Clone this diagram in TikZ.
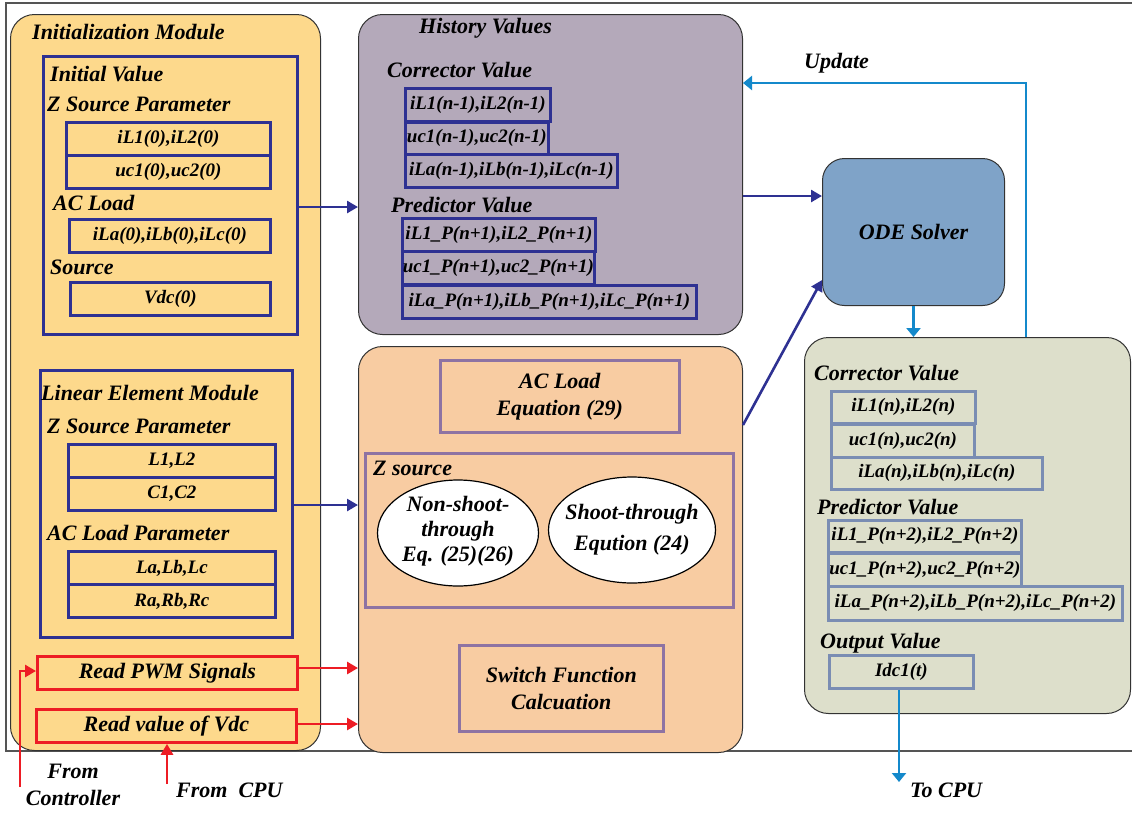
\documentclass[tikz,border=0pt]{standalone}
\usepackage{fontspec}
\setmainfont{Liberation Serif}
\usetikzlibrary{arrows.meta,shapes.geometric}
\definecolor{initfill}{HTML}{FDD98C}
\definecolor{histfill}{HTML}{B4A9BA}
\definecolor{ctrfill}{HTML}{F8CCA2}
\definecolor{odefill}{HTML}{7FA3C8}
\definecolor{outfill}{HTML}{DDDFCB}
\definecolor{navy}{HTML}{2E3192}
\definecolor{sigred}{HTML}{ED1C24}
\definecolor{ltblue}{HTML}{1489CB}
\definecolor{purp}{HTML}{8E73A3}
\definecolor{gblue}{HTML}{7A8DB3}
\definecolor{frame}{HTML}{555555}
\begin{document}
\begin{tikzpicture}[x=1pt,y=-1pt,
  bigbox/.style={draw=black!80, line width=1pt, rounded corners=24pt},
  cellfont/.style={font=\fontsize{19}{21}\selectfont\bfseries\itshape},
  cellN/.style={cellfont, draw=navy, line width=2.8pt, anchor=north west, inner sep=0pt},
  cellR/.style={draw=sigred, line width=2.8pt, anchor=north west, inner sep=0pt, font=\fontsize{22}{24}\selectfont\bfseries\itshape},
  cellG/.style={cellfont, draw=gblue, line width=2.8pt, anchor=north west, inner sep=0pt},
  cellP/.style={draw=purp, line width=2.6pt, anchor=north west, inner sep=0pt, align=center, font=\fontsize{22}{27}\selectfont\bfseries\itshape},
  hd/.style={anchor=base west, inner sep=0pt, font=\fontsize{22}{24}\selectfont\bfseries\itshape},
  lbl/.style={inner sep=0pt, align=center, font=\fontsize{22}{25}\selectfont\bfseries\itshape},
  nav/.style={draw=navy, line width=2.6pt, -{Triangle[length=11pt,width=12pt]}},
  redar/.style={draw=sigred, line width=2.8pt, -{Triangle[length=11pt,width=12pt]}},
  bluar/.style={draw=ltblue, line width=2.8pt, -{Triangle[length=9pt,width=14pt]}}
]
\clip (0,0) rectangle (1132,812);
\fill[white] (0,0) rectangle (1132,812);
% outer frame
\draw[frame, line width=1.4pt] (1140,3) -- (6,3) -- (6,751) -- (1140,751);

% ---------- Initialization module ----------
\node[bigbox, fill=initfill, anchor=north west, minimum width=310pt, minimum height=736pt] (init) at (10,14) {};
\node[hd] (initT) at (32,39) {Initialization Module};
\node[draw=navy, line width=2.8pt, anchor=north west, minimum width=254pt, minimum height=278pt] (iv) at (42,55) {};
\node[hd] (ivT) at (50,81) {Initial Value};
\node[hd] (zsp1) at (47,111) {Z Source Parameter};
\node[cellN, minimum width=204pt, minimum height=33pt] (c1) at (65,121) {iL1(0),iL2(0)};
\node[cellN, minimum width=204pt, minimum height=33pt] (c2) at (65,154) {uc1(0),uc2(0)};
\node[hd] (acl) at (53,210) {AC Load};
\node[cellN, minimum width=201pt, minimum height=33pt] (c3) at (68,218) {iLa(0),iLb(0),iLc(0)};
\node[hd] (src) at (50,274) {Source};
\node[cellN, minimum width=200pt, minimum height=33pt] (c4) at (69,281) {Vdc(0)};

\node[draw=navy, line width=2.8pt, anchor=north west, minimum width=252pt, minimum height=267pt] (lem) at (39,369) {};
\node[hd] (lemT) at (41,400) {Linear Element Module};
\node[hd] (zsp2) at (47,433) {Z Source Parameter};
\node[cellN, minimum width=207pt, minimum height=33pt] (l1) at (67,443) {L1,L2};
\node[cellN, minimum width=207pt, minimum height=33pt] (l2) at (67,476) {C1,C2};
\node[hd] (aclp) at (47,540) {AC Load Parameter};
\node[cellN, minimum width=207pt, minimum height=33pt] (l3) at (67,550) {La,Lb,Lc};
\node[cellN, minimum width=207pt, minimum height=33pt] (l4) at (67,583) {Ra,Rb,Rc};

\node[cellR, minimum width=260pt, minimum height=33pt] (pwm) at (36,655) {Read PWM Signals};
\node[cellR, minimum width=260pt, minimum height=33pt] (vdc) at (35,708) {Read value of Vdc};

% ---------- History values ----------
\node[bigbox, fill=histfill, anchor=north west, minimum width=384pt, minimum height=320pt] (hist) at (358,14) {};
\node[hd] (histT) at (419,33) {History Values};
\node[hd] (corT) at (387,77) {Corrector Value};
\node[cellN, minimum width=145pt, minimum height=33pt] (h1) at (404,87) {iL1(n-1),iL2(n-1)};
\node[cellN, minimum width=143pt, minimum height=32pt] (h2) at (404,121) {uc1(n-1),uc2(n-1)};
\node[cellN, minimum width=212pt, minimum height=33pt] (h3) at (404,153) {iLa(n-1),iLb(n-1),iLc(n-1)};
\node[hd] (preT) at (391,212) {Predictor Value};
\node[cellN, minimum width=193pt, minimum height=33pt] (h4) at (401,217) {iL1\_P(n+1),iL2\_P(n+1)};
\node[cellN, minimum width=192pt, minimum height=33pt] (h5) at (401,250) {uc1\_P(n+1),uc2\_P(n+1)};
\node[cellN, minimum width=294pt, minimum height=33pt] (h6) at (401,284) {iLa\_P(n+1),iLb\_P(n+1),iLc\_P(n+1)};

% ---------- Centre box ----------
\node[bigbox, fill=ctrfill, anchor=north west, minimum width=384pt, minimum height=406pt] (ctr) at (358,346) {};
\node[cellP, minimum width=239pt, minimum height=72pt] (acq) at (439,359) {AC Load\\Equation (29)};
\node[draw=purp, line width=2.6pt, anchor=north west, minimum width=368pt, minimum height=154pt] (zs) at (364,452) {};
\node[hd] (zsT) at (373,475) {Z source};
\node[ellipse, draw=black, line width=1.2pt, fill=white, minimum width=161pt, minimum height=106pt, inner sep=0pt] (e1) at (458,533) {};
\node[lbl] (e1T) at (458,531) {Non-shoot-\\through\\Eq. (25)(26)};
\node[ellipse, draw=black, line width=1.2pt, fill=white, minimum width=167pt, minimum height=106pt, inner sep=0pt] (e2) at (632,530) {};
\node[lbl, font=\fontsize{22}{31}\selectfont\bfseries\itshape] (e2T) at (632,530) {Shoot-through\\Eqution (24)};
\node[cellP, minimum width=204pt, minimum height=86pt] (sw) at (458,644) {Switch Function\\Calcuation};

% ---------- ODE solver ----------
\node[draw=black!80, line width=1pt, rounded corners=22pt, fill=odefill, anchor=north west, minimum width=182pt, minimum height=147pt, font=\fontsize{22}{24}\selectfont\bfseries\itshape] (ode) at (822,158) {ODE Solver};

% ---------- Output box ----------
\node[bigbox, fill=outfill, anchor=north west, minimum width=326pt, minimum height=376pt] (outb) at (804,337) {};
\node[hd] (ocT) at (814,380) {Corrector Value};
\node[cellG, minimum width=144pt, minimum height=32pt] (o1) at (830,390) {iL1(n),iL2(n)};
\node[cellG, minimum width=143pt, minimum height=33pt] (o2) at (830,423) {uc1(n),uc2(n)};
\node[cellG, minimum width=211pt, minimum height=32pt] (o3) at (830,456) {iLa(n),iLb(n),iLc(n)};
\node[hd] (opT) at (817,514) {Predictor Value};
\node[cellG, minimum width=193pt, minimum height=32pt] (o4) at (827,519) {iL1\_P(n+2),iL2\_P(n+2)};
\node[cellG, minimum width=193pt, minimum height=33pt] (o5) at (827,552) {uc1\_P(n+2),uc2\_P(n+2)};
\node[cellG, minimum width=294pt, minimum height=34pt] (o6) at (827,585) {iLa\_P(n+2),iLb\_P(n+2),iLc\_P(n+2)};
\node[hd] (ovT) at (820,648) {Output Value};
\node[cellG, minimum width=144pt, minimum height=33pt] (o7) at (828,654) {Idc1(t)};

% ---------- labels ----------
\node[hd] (upd) at (804,68) {Update};
\node[lbl, font=\fontsize{22}{27}\selectfont\bfseries\itshape, anchor=base] (fc) at (73,805) {From\\Controller};
\node[hd] (fcpu) at (176,797) {From\enspace CPU};
\node[hd] (tocpu) at (910,797) {To CPU};
\coordinate (fcS) at (20,787);
\coordinate (fcpuS) at (167,784);
\coordinate (tocpuE) at (899,782);

% ---------- connectors ----------
\draw[nav] (iv.east |- 0,207) -- (hist.west |- 0,207);
\draw[nav] (lem.east |- 0,505) -- (ctr.west |- 0,505);
\draw[redar] (pwm.east |- 0,668) -- (ctr.west |- 0,668);
\draw[redar] (vdc.east |- 0,724) -- (ctr.west |- 0,724);
\draw[redar] (fcS) -- (20,671) -- (pwm.west |- 0,671);
\draw[redar] (fcpuS) -- (vdc.south -| fcpuS);
\draw[nav] (hist.east |- 0,196) -- (ode.west |- 0,196);
\draw[nav] (ctr.east |- 0,425) -- (ode.west |- 0,280);
\draw[bluar] (ode.south) -- (outb.north -| ode.south);
\draw[bluar] (outb.north -| 1026,0) -- (1026,83) -- (hist.east |- 0,83);
\draw[bluar] (o7.south -| tocpuE) -- (tocpuE);
\end{tikzpicture}
\end{document}
